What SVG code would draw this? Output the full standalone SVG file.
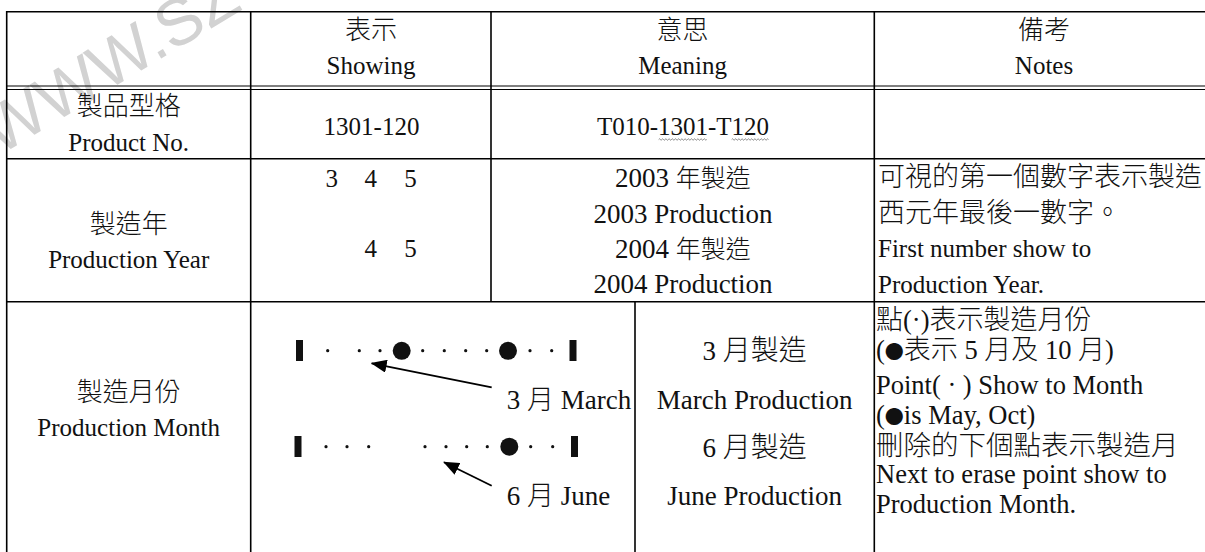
<svg xmlns="http://www.w3.org/2000/svg" width="1205" height="552" viewBox="0 0 1205 552">
<defs>
<style>
.bg{fill:#fff}
.ln{stroke:#000;stroke-width:1.6;fill:none}
.dl{stroke:#000;stroke-width:1.1;fill:none}
.tx{font-family:'Liberation Serif','Noto Sans CJK TC',serif;fill:#111}
.c{font-family:'Noto Sans CJK TC','Liberation Serif',sans-serif;font-weight:300}
.mid{text-anchor:middle}
.s25{font-size:25px}
.s27{font-size:27px}
.n27{font-size:26.5px}
.nc{font-size:27px}
.bl{font-size:19px}
.wm{font-family:'Liberation Sans',Arial,sans-serif;font-size:66px;fill:#d2d2d2}
.dot{fill:#111}
.bar{fill:#111}
.wave{stroke:#666;stroke-width:0.8;fill:none}
.arr{stroke:#000;stroke-width:1.8;fill:none}
</style>
<marker id="ah" viewBox="0 0 16 13" refX="15" refY="6.5" markerWidth="16" markerHeight="13" markerUnits="userSpaceOnUse" orient="auto">
<path d="M0,0 L16,6.5 L0,13 z" fill="#000"/>
</marker>
</defs>
<rect class="bg" x="0" y="0" width="1205" height="552"/>
<g id="watermark">
<text class="wm" transform="translate(-1 156) rotate(-31)">WWW.SZ</text>
</g>
<g id="grid">
<line class="ln" x1="6.7" y1="11.7" x2="1205" y2="11.7"/>
<line class="dl" x1="6.7" y1="86" x2="1205" y2="86"/>
<line class="dl" x1="6.7" y1="89.5" x2="1205" y2="89.5"/>
<line class="ln" x1="6.7" y1="158.8" x2="1205" y2="158.8"/>
<line class="ln" x1="6.7" y1="301.7" x2="1205" y2="301.7"/>
<line class="ln" x1="6.7" y1="11" x2="6.7" y2="552"/>
<line class="ln" x1="250.7" y1="11" x2="250.7" y2="552"/>
<line class="ln" x1="491" y1="11" x2="491" y2="301.7"/>
<line class="ln" x1="635" y1="301.7" x2="635" y2="552"/>
<line class="ln" x1="874.3" y1="11" x2="874.3" y2="552"/>
</g>
<g id="header">
<text class="tx c mid" x="371" y="39" style="font-size:26px">表示</text>
<text class="tx s25 mid" x="371" y="74">Showing</text>
<text class="tx c mid" x="682.6" y="39" style="font-size:26px">意思</text>
<text class="tx s25 mid" x="682.6" y="74">Meaning</text>
<text class="tx c mid" x="1044" y="39" style="font-size:26px">備考</text>
<text class="tx s25 mid" x="1044" y="74">Notes</text>
</g>
<g id="row-product">
<text class="tx c mid" x="128.7" y="115" style="font-size:26px">製品型格</text>
<text class="tx s25 mid" x="128.7" y="150.5">Product No.</text>
<text class="tx s25 mid" x="371.5" y="135">1301-120</text>
<text class="tx s25 mid" x="683" y="135">T010-1301-T120</text>
<path class="wave" d="M658.7 139.5 q0.8 -1.4 1.6 0 t1.6 0 t1.6 0 t1.6 0 t1.6 0 t1.6 0 t1.6 0 t1.6 0 t1.6 0 t1.6 0 t1.6 0 t1.6 0 t1.6 0 t1.6 0 t1.6 0 t1.6 0 t1.6 0 t1.6 0 t1.6 0 t1.6 0 t1.6 0 t1.6 0 t1.6 0 t1.6 0 t1.6 0 t1.6 0 t1.6 0 t1.6 0 t1.6 0 t1.6 0"/>
<path class="wave" d="M731.7 139.5 q0.8 -1.4 1.6 0 t1.6 0 t1.6 0 t1.6 0 t1.6 0 t1.6 0 t1.6 0 t1.6 0 t1.6 0 t1.6 0 t1.6 0 t1.6 0 t1.6 0 t1.6 0 t1.6 0 t1.6 0 t1.6 0 t1.6 0 t1.6 0 t1.6 0 t1.6 0 t1.6 0 t1.6 0"/>
</g>
<g id="row-year">
<text class="tx c mid" x="128.7" y="233" style="font-size:26px">製造年</text>
<text class="tx s25 mid" x="128.7" y="268">Production Year</text>
<text class="tx s25 mid" y="187.3"><tspan x="331.7">3</tspan><tspan x="370.8">4</tspan><tspan x="410.5">5</tspan></text>
<text class="tx s25 mid" y="256.7"><tspan x="370.8">4</tspan><tspan x="410.5">5</tspan></text>
<text class="tx s27 mid" x="683" y="187.3">2003 <tspan class="c" style="font-size:25px">年製造</tspan></text>
<text class="tx s27 mid" x="683" y="223.3">2003 Production</text>
<text class="tx s27 mid" x="683" y="258">2004 <tspan class="c" style="font-size:25px">年製造</tspan></text>
<text class="tx s27 mid" x="683" y="293">2004 Production</text>
<text class="tx c" x="878" y="186" style="font-size:27px">可視的第一個數字表示製造</text>
<text class="tx c" x="878" y="222" style="font-size:27px">西元年最後一數字。</text>
<text class="tx s25" x="878" y="257">First number show to</text>
<text class="tx s25" x="878" y="293">Production Year.</text>
</g>
<g id="row-month">
<text class="tx c mid" x="128.7" y="401" style="font-size:26px">製造月份</text>
<text class="tx s25 mid" x="128.7" y="436">Production Month</text>
<text class="tx s27" x="506.7" y="409">3 <tspan class="c" style="font-size:27px">月</tspan> March</text>
<text class="tx s27" x="506.7" y="505">6 <tspan class="c" style="font-size:27px">月</tspan> June</text>
<text class="tx s27 mid" x="754.7" y="360">3 <tspan class="c" style="font-size:28px">月製造</tspan></text>
<text class="tx s27 mid" x="754.7" y="409">March Production</text>
<text class="tx s27 mid" x="754.7" y="457">6 <tspan class="c" style="font-size:28px">月製造</tspan></text>
<text class="tx s27 mid" x="754.7" y="505">June Production</text>
<text class="tx n27" x="876" y="329"><tspan class="c nc">點</tspan>(·)<tspan class="c nc">表示製造月份</tspan></text>
<text class="tx n27" x="876" y="359">(<tspan class="c bl">●</tspan><tspan class="c nc">表示</tspan> 5 <tspan class="c nc">月及</tspan> 10 <tspan class="c nc">月</tspan>)</text>
<text class="tx n27" x="876" y="394">Point( · ) Show to Month</text>
<text class="tx n27" x="876" y="424">(<tspan class="c bl">●</tspan>is May, Oct)</text>
<text class="tx c" x="876" y="455" style="font-size:27.5px">刪除的下個點表示製造月</text>
<text class="tx n27" x="876" y="483">Next to erase point show to</text>
<text class="tx n27" x="876" y="513">Production Month.</text>
</g>
<g id="marks-march">
<rect class="bar" x="296" y="340" width="7" height="21"/>
<circle class="dot" cx="327.7" cy="350.7" r="1.6"/>
<circle class="dot" cx="359.3" cy="350.7" r="1.6"/>
<circle class="dot" cx="380" cy="350.7" r="1.6"/>
<circle class="dot" cx="401.7" cy="350.8" r="9"/>
<circle class="dot" cx="422.7" cy="350.7" r="1.6"/>
<circle class="dot" cx="444.3" cy="350.7" r="1.6"/>
<circle class="dot" cx="465.7" cy="350.7" r="1.6"/>
<circle class="dot" cx="486.7" cy="350.7" r="1.6"/>
<circle class="dot" cx="508" cy="350.8" r="9"/>
<circle class="dot" cx="530" cy="350.7" r="1.6"/>
<circle class="dot" cx="551.7" cy="350.7" r="1.6"/>
<rect class="bar" x="569.5" y="340" width="7" height="21"/>
</g>
<g id="marks-june">
<rect class="bar" x="294.5" y="436" width="7" height="21"/>
<circle class="dot" cx="326" cy="446.7" r="1.6"/>
<circle class="dot" cx="347" cy="446.7" r="1.6"/>
<circle class="dot" cx="368.7" cy="446.7" r="1.6"/>
<circle class="dot" cx="425" cy="446.7" r="1.6"/>
<circle class="dot" cx="446" cy="446.7" r="1.6"/>
<circle class="dot" cx="466.7" cy="446.7" r="1.6"/>
<circle class="dot" cx="487.3" cy="446.7" r="1.6"/>
<circle class="dot" cx="509.3" cy="446.7" r="9"/>
<circle class="dot" cx="530.7" cy="446.7" r="1.6"/>
<circle class="dot" cx="552.7" cy="446.7" r="1.6"/>
<rect class="bar" x="571" y="436" width="7" height="21"/>
</g>
<g id="connectors">
<path class="arr" d="M491.7 387.3 L371.7 363.3" marker-end="url(#ah)"/>
<path class="arr" d="M491.7 485.7 L444 462.3" marker-end="url(#ah)"/>
</g>
</svg>
